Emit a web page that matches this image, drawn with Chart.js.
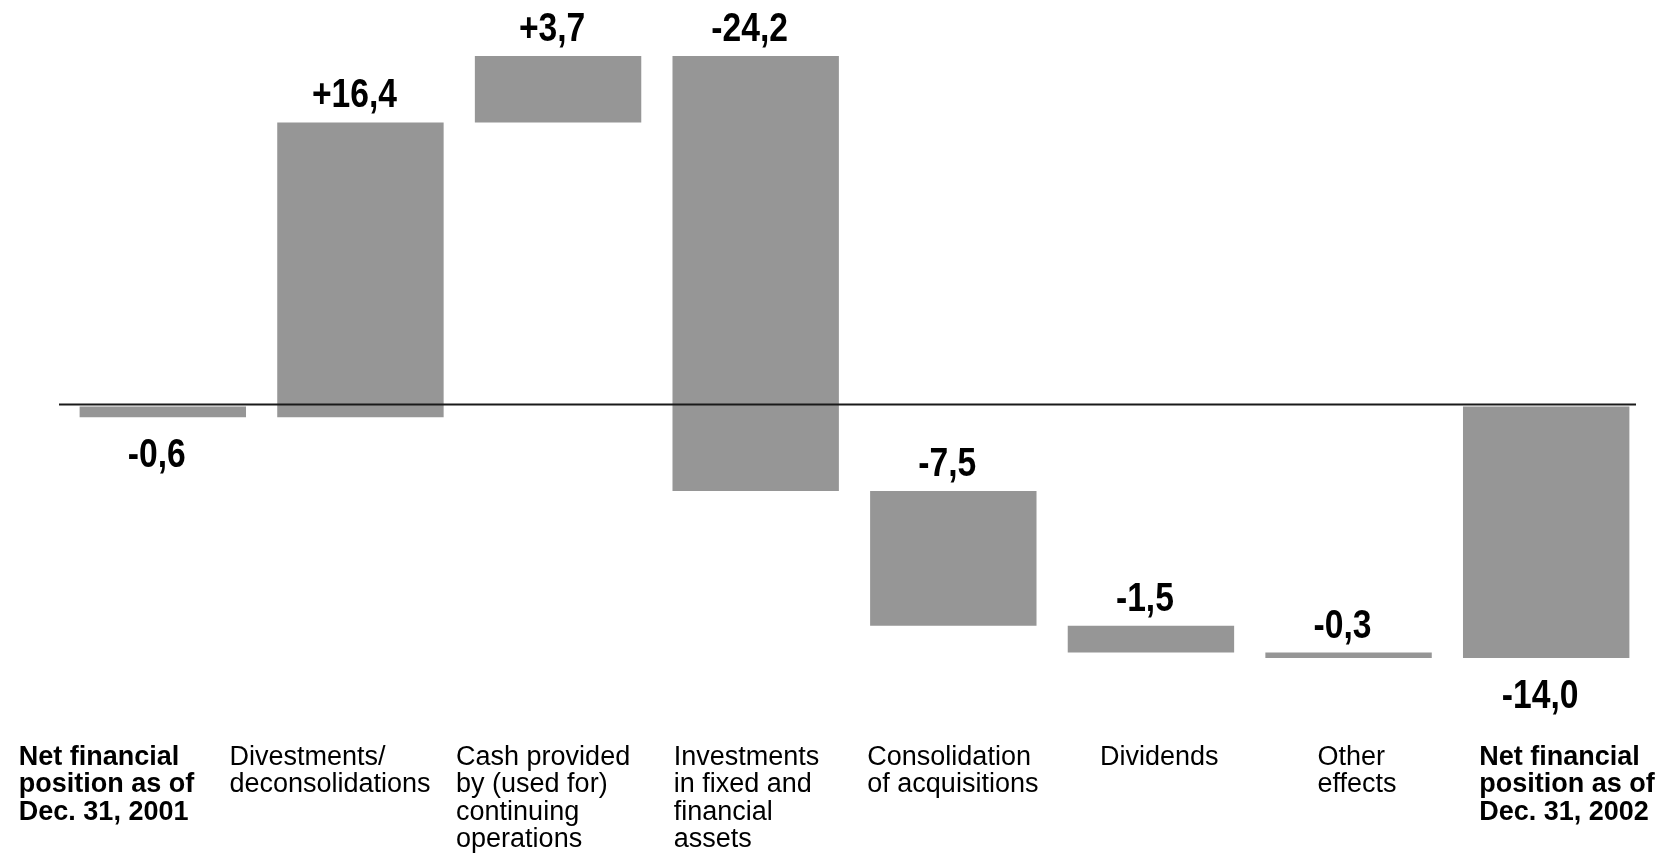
<!DOCTYPE html>
<html>
<head>
<meta charset="utf-8">
<script src="https://cdn.jsdelivr.net/npm/chart.js@4.4.1/dist/chart.umd.min.js"></script>
<style>
  html, body { margin: 0; padding: 0; background: #ffffff; }
  #wrap { width: 1663px; height: 856px; position: relative; }
</style>
</head>
<body>
<div id="wrap"><canvas id="grafico"></canvas></div>
<script>
// ====== datos del puente (waterfall) ======
const categorias = [
    ['Net financial', 'position as of', 'Dec. 31, 2001'],
    ['Divestments/', 'deconsolidations'],
    ['Cash provided', 'by (used for)', 'continuing', 'operations'],
    ['Investments', 'in fixed and', 'financial', 'assets'],
    ['Consolidation', 'of acquisitions'],
    ['Dividends'],
    ['Other', 'effects'],
    ['Net financial', 'position as of', 'Dec. 31, 2002']
];
const etiquetasValor = ['-0,6', '+16,4', '+3,7', '-24,2', '-7,5', '-1,5', '-0,3', '-14,0'];
// inicio y fin de cada barra flotante
const barraDesde = [0, -0.6, 15.8, 19.5, -4.7, -12.2, -13.7, 0];
const barraHasta = [-0.6, 15.8, 19.5, -4.7, -12.2, -13.7, -14.0, -14.0];
// barras de posicion (primera y ultima)
const esPosicion = [true, false, false, false, false, false, false, true];

// ajuste horizontal de los textos de categoria (px desde el centro de la barra)
const desplazTexto = [-144, -131, -102, -82, -86, -51, -31, -67];

const GRIS = '#969696';
const FUENTE = "'Liberation Sans', Arial, sans-serif";

const pluginTextos = {
    id: 'textos',
    afterDatasetsDraw(chart) {
        const ctx = chart.ctx;
        const x = chart.scales.x;
        const y = chart.scales.y;
        const area = chart.chartArea;

        // linea del cero
        const y0 = Math.round(y.getPixelForValue(0)) - 1.5;
        ctx.save();
        ctx.strokeStyle = '#1a1a1a';
        ctx.lineWidth = 2;
        ctx.beginPath();
        ctx.moveTo(area.left - 5, y0);
        ctx.lineTo(area.right - 9, y0);
        ctx.stroke();
        ctx.restore();

        // etiquetas de valor (negrita, condensada)
        ctx.save();
        ctx.fillStyle = '#000000';
        ctx.font = 'bold 41px ' + FUENTE;
        ctx.textAlign = 'center';
        etiquetasValor.forEach((txt, i) => {
            const cx = x.getPixelForValue(i) - 6;
            const arriba = Math.max(barraDesde[i], barraHasta[i]);
            const abajo = Math.min(barraDesde[i], barraHasta[i]);
            let base;
            if (esPosicion[i]) {
                ctx.textBaseline = 'top';
                base = y.getPixelForValue(abajo) + 18;
            } else {
                ctx.textBaseline = 'alphabetic';
                base = y.getPixelForValue(arriba) - 15;
            }
            ctx.save();
            ctx.translate(cx, base);
            ctx.scale(0.82, 1);
            ctx.fillText(txt, 0, 0);
            ctx.restore();
        });
        ctx.restore();

        // textos de categoria
        ctx.save();
        ctx.fillStyle = '#000000';
        ctx.textAlign = 'left';
        ctx.textBaseline = 'alphabetic';
        categorias.forEach((lineas, i) => {
            ctx.font = (esPosicion[i] ? 'bold ' : '') + '27px ' + FUENTE;
            const left = x.getPixelForValue(i) + desplazTexto[i];
            lineas.forEach((l, k) => {
                ctx.fillText(l, left, 765 + k * 27.4);
            });
        });
        ctx.restore();
    }
};

const datos = barraDesde.map((d, i) => [d, barraHasta[i]]);

new Chart(document.getElementById('grafico'), {
    type: 'bar',
    data: {
        labels: categorias.map(c => c.join(' ')),
        datasets: [{
            data: datos,
            backgroundColor: GRIS,
            borderWidth: 0,
            barPercentage: 0.842,
            categoryPercentage: 1.0
        }]
    },
    options: {
        responsive: true,
        maintainAspectRatio: false,
        animation: false,
        devicePixelRatio: 1,
        layout: { padding: { left: 64, right: 18, top: 56, bottom: 198 } },
        scales: {
            x: { display: false, grid: { display: false } },
            y: { display: false, min: -14.0, max: 19.5, grid: { display: false } }
        },
        plugins: {
            legend: { display: false },
            tooltip: { enabled: false }
        }
    },
    plugins: [pluginTextos]
});
</script>
</body>
</html>
